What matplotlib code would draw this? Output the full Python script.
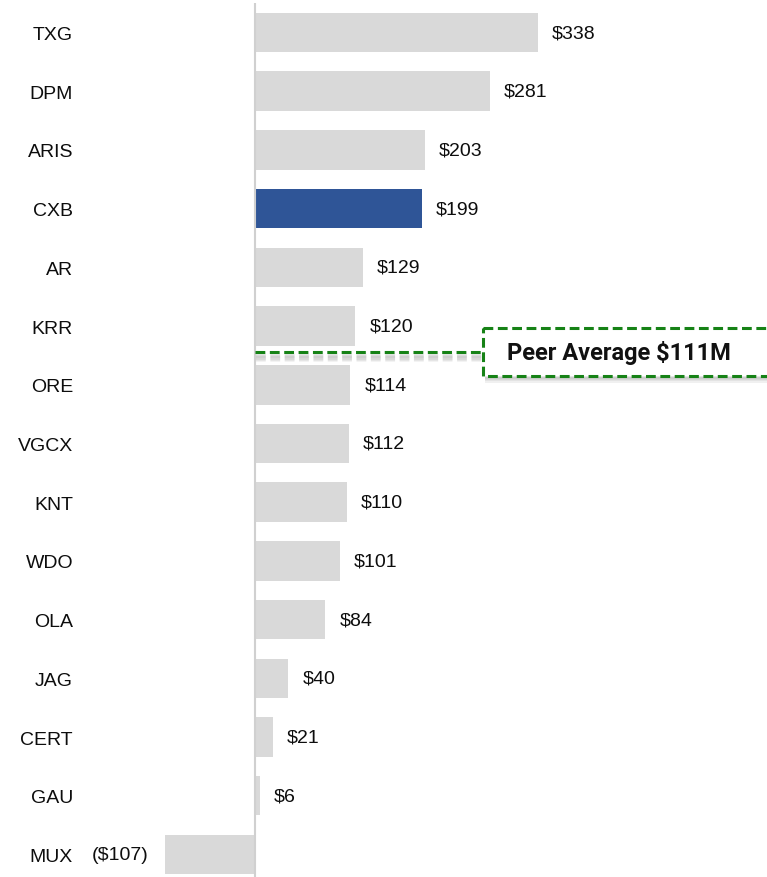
import matplotlib
matplotlib.use("Agg")
import matplotlib.pyplot as plt
import matplotlib.patheffects as pe
from matplotlib.patches import Rectangle

companies = ["TXG", "DPM", "ARIS", "CXB", "AR", "KRR", "ORE", "VGCX", "KNT",
             "WDO", "OLA", "JAG", "CERT", "GAU", "MUX"]
values = [338, 281, 203, 199, 129, 120, 114, 112, 110, 101, 84, 40, 21, 6, -107]
highlight = "CXB"
peer_average = 111
peer_label = "Peer Average $111M"

W, H, DPI = 767, 878, 100
fig = plt.figure(figsize=(W / DPI, H / DPI), dpi=DPI)

# pixel-based layout
px_zero = 255.0
px_per_unit = 0.837
ax_left_px = 90.0
ax_top_px = 4.0
ax = fig.add_axes([ax_left_px / W, 0, 1 - ax_left_px / W, (H - ax_top_px) / H])
ax.set_xlim((ax_left_px - px_zero) / px_per_unit, (W - px_zero) / px_per_unit)
row_pitch = 58.71
first_center = 33.5
ax.set_ylim((H - first_center) / row_pitch, (ax_top_px - first_center) / row_pitch)

gray = "#d9d9d9"
blue = "#2f5597"
colors = [blue if c == highlight else gray for c in companies]
ypos = list(range(len(companies)))
ax.barh(ypos, values, height=0.673, color=colors, zorder=2)

for sp in ax.spines.values():
    sp.set_visible(False)
ax.set_xticks([])
ax.set_yticks(ypos)
ax.set_yticklabels(companies, fontsize=14, family="Liberation Sans", color="#0d0d0d")
ax.tick_params(axis="y", length=0, pad=12.2)

ax.axvline(0, color="#d0d0d0", lw=1.5, zorder=3)

off = 14 / px_per_unit
for y, v in zip(ypos, values):
    if v >= 0:
        ax.text(v + off, y, f"${v}", ha="left", va="center", fontsize=14,
                family="Liberation Sans", color="#0d0d0d")
    else:
        ax.text(v - off * 1.2, y, f"(${-v})", ha="right", va="center", fontsize=14,
                family="Liberation Sans", color="#0d0d0d")

# peer average marker between KRR and ORE
green = "#168216"
i_after = companies.index("KRR")
y_line = i_after + 0.45
box_left = (483 - px_zero) / px_per_unit

line_shadow = [pe.SimpleLineShadow(offset=(1, -k), shadow_color="#888888", alpha=0.12, linewidth=4)
               for k in (2, 3, 4, 5)] + [pe.Normal()]
ax.plot([0, box_left], [y_line, y_line], ls=(0, (3.2, 1.5)), lw=2.2, color=green,
        zorder=4, path_effects=line_shadow)

box_h = 48 / row_pitch
patch_shadow = [pe.SimplePatchShadow(offset=(1.5, -k), shadow_rgbFace="#888888", alpha=0.12)
                for k in (1.5, 2.5, 3.5, 4.5)] + [pe.Normal()]
rect = Rectangle((box_left, y_line - box_h / 2), 400, box_h, facecolor="white",
                 edgecolor=green, lw=2.2, ls=(0, (3.2, 1.5)), zorder=5, clip_on=False,
                 path_effects=patch_shadow)
ax.add_patch(rect)
ax.text(box_left + 24 / px_per_unit, y_line, peer_label, ha="left", va="center",
        fontsize=17, fontweight="bold", family="Roboto", color="#111111", zorder=6)

fig.savefig("out.png", dpi=DPI)
